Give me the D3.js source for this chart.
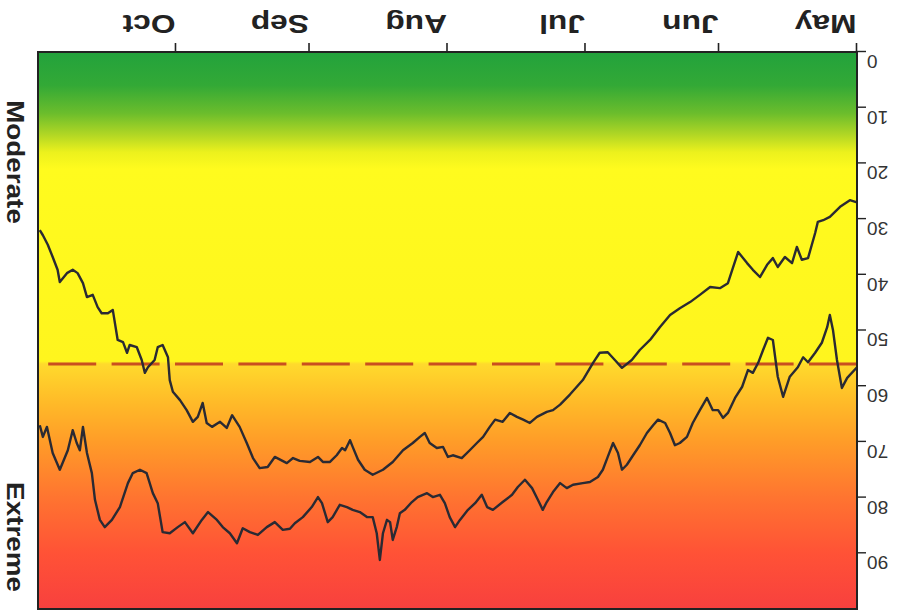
<!DOCTYPE html>
<html>
<head>
<meta charset="utf-8">
<script src="https://cdn.jsdelivr.net/npm/d3@7.9.0/dist/d3.min.js"></script>
<style>
  body { margin: 0; background: #fff; }
  svg { display: block; font-family: "Liberation Sans", Arial, sans-serif; }
</style>
</head>
<body>
<svg id="chart" width="900" height="615"></svg>
<script>
// season runs May 1 -> Nov 1, x values are days after May 1
const seasonStart = new Date(2002, 4, 1);
const seasonEnd = new Date(2002, 10, 1);
const months = ["May", "Jun", "Jul", "Aug", "Sep", "Oct"];
const yTicks = [0, 10, 20, 30, 40, 50, 60, 70, 80, 90];
const threshold = 56;

// lower index curve
const daysA = [0, 1.6, 3.8, 6.1, 7.6, 8.8, 9.4, 11, 12.4, 13.5, 14.6, 16.2, 17.8, 18.9, 20.2, 21.8, 23.4, 24.7, 26.7, 27.9,
  29, 30.8, 33, 35.3, 37.5, 39.8, 42, 44.3, 46.5, 48.8, 50.6, 52.8, 54.4, 56, 57.8, 59.3, 61.6, 64.5, 66.7, 68.3,
  69.7, 71.9, 73.5, 75, 76.4, 78, 79.6, 81.3, 82.5, 84, 85.4, 87, 88.8, 90.8, 91.9, 93, 94.4, 96, 97.1, 98.2,
  99.8, 102, 104.3, 106.5, 108.8, 110.6, 112.1, 113.3, 113.9, 115, 115.7, 116.9, 118.4, 120, 121.1, 122.9, 125.2, 126.7, 128.1, 130.8,
  132.4, 134.2, 135.7, 137.1, 138.7, 140.4, 141.6, 143.1, 144.9, 146.1, 147, 148.1, 149.2, 150.6, 152.1, 153.7, 154.4, 154.8, 156, 157.1,
  157.8, 159.3, 160, 160.7, 161.8, 163.4, 164, 164.9, 166.1, 167.2, 168.3, 169.7, 170.6, 171.7, 173, 173.9, 175.1, 176.2, 177.5, 179.1,
  179.6, 180.7, 181.8, 182.9, 183.6];
const valuesA = [27, 26.6, 27.8, 29.6, 30.2, 30.5, 32.5, 37, 37.3, 35, 37.9, 36.8, 38.6, 37, 38.2, 40.4, 39.1, 37.9, 35.9, 38.8,
  41.5, 42.4, 42.2, 43.6, 44.9, 46, 47.2, 49.4, 51.7, 53.5, 55.3, 56.7, 55.3, 53.9, 54, 55.8, 58.9, 61.5, 63.3, 64.3,
  64.6, 65.5, 66.6, 66, 65.5, 64.8, 66.4, 66, 67.3, 69.1, 70.2, 71.5, 72.9, 72.4, 72.7, 70.9, 71.1, 70.2, 68.4, 69.1,
  70.2, 71.5, 73.6, 75, 75.9, 75, 73.2, 70.9, 69.7, 71.5, 71.1, 72.4, 73.6, 73.6, 72.7, 73.6, 73.4, 72.9, 73.8, 72.7,
  74.5, 74.7, 72.9, 70.2, 67.3, 65.2, 67.5, 66.4, 67.3, 66.6, 63, 65.5, 66.4, 64.3, 62.5, 61, 58.9, 54.8, 52.6, 53,
  55.3, 56.6, 57.6, 55.3, 53, 52.6, 54, 52.1, 51.7, 46.3, 46.9, 46.9, 45.8, 43.6, 44, 41.5, 39.7, 39.1, 39.7, 41.3,
  39.1, 36.8, 34.6, 32.9, 32];

// upper index curve
const daysB = [0, 2.2, 3.4, 4.5, 5.4, 6.1, 6.7, 7.9, 9.4, 11, 12.1, 13.3, 15.1, 16.6, 17.8, 18.9, 20, 21.1, 22.2, 23.4,
  24.5, 25.8, 27.4, 29, 30.1, 31.2, 32.4, 33.7, 35.3, 36.9, 38.2, 39.8, 40.9, 42, 43.1, 44.7, 45.8, 47.2, 48.8, 50.3,
  51.7, 52.8, 53.7, 54.8, 56, 57.1, 58.2, 60, 61.6, 63.8, 65.2, 66.7, 68.3, 69.7, 70.6, 71.7, 73, 74.6, 76.2, 77.5,
  79.6, 81.8, 83.1, 84.3, 85.8, 87.4, 89.2, 90.3, 91.5, 92.6, 93.7, 95.3, 96.6, 98.7, 100, 101.6, 102.7, 103.4, 104.3, 104.9,
  105.6, 106.5, 107.2, 107.9, 108.8, 110.1, 111.7, 113.3, 114.6, 116.2, 117.8, 118.9, 120.2, 121.1, 122.5, 124.5, 126.3, 127.4, 129, 130.8,
  132.6, 134.6, 136.4, 138, 139.3, 140.9, 142.5, 143.8, 145.8, 147.2, 149.2, 151, 152.6, 154.4, 156, 157.1, 158.2, 159.6, 161.1, 162.7,
  163.8, 165.6, 167.4, 169, 170.1, 171.2, 171.9, 173, 173.9, 174.6, 175.3, 176.2, 177.3, 179.1, 180.7, 182, 182.9, 183.6];
const valuesB = [56.6, 58.5, 60.3, 55.3, 49.9, 47.2, 49.4, 52.2, 54, 55.7, 54.8, 56.6, 58.3, 61.9, 58.3, 51.7, 51.3, 53.5, 55.8, 57.6,
  57.1, 60.1, 62.1, 64.8, 65.7, 64.3, 64.3, 62.1, 64.3, 66.6, 69.1, 70.2, 70.6, 68.4, 66.6, 66, 67, 68.4, 70.6, 72.4,
  74.1, 75, 72, 70.2, 72.7, 75, 76.3, 77.2, 77.4, 77.7, 78.3, 77.4, 79, 80.8, 82.2, 80.4, 78.3, 76.8, 78.1, 79.5,
  80.8, 82.2, 81.7, 79.5, 81, 82.2, 84, 85.3, 83.5, 81, 79.5, 79.9, 79.2, 79.9, 80.8, 82.2, 82.8, 85.3, 87.6, 84.4,
  84, 86.4, 91.2, 86.4, 83.5, 83.5, 82.6, 82.2, 81.7, 81.3, 83.5, 84.4, 81, 79.9, 81.7, 83.5, 84.6, 85.6, 85.8, 84.4,
  85.3, 86.7, 86.2, 85.5, 88.2, 86.4, 85.3, 84, 82.6, 84, 86.4, 84.4, 85.3, 86.4, 86.2, 81, 79.2, 75.6, 75, 75.6,
  77.4, 81.7, 84, 85.3, 84, 80.4, 75.6, 72, 67.3, 71.5, 70.2, 67.9, 71.5, 75, 72, 67.3, 69.1, 67];

// background bands: value -> colour
const bandStops = [0, 6, 11, 15, 18, 21, 55.5, 56, 63, 70, 80, 90, 100];
const bandColors = ["#22a23c", "#33a936", "#6bbd2c", "#b4d824", "#ecf11d", "#fffb1e", "#fff51e",
  "#ffda2c", "#ffba28", "#ff9c28", "#ff7430", "#ff5236", "#f8403e"];

const width = 900, height = 615;
const svg = d3.select("#chart");

const toDate = d => new Date(seasonStart.getTime() + d * 864e5);
const seriesA = daysA.map((d, i) => ({ date: toDate(d), value: valuesA[i] }));
const seriesB = daysB.map((d, i) => ({ date: toDate(d), value: valuesB[i] }));

const x = d3.scaleTime().domain([seasonStart, seasonEnd]).range([43, 862]);
const y = d3.scaleLinear().domain([0, 100]).range([563, 6]);

// the picture is the chart turned upside down
const g = svg.append("g").attr("transform", `rotate(180,${width / 2},${height / 2})`);

const grad = svg.append("defs").append("linearGradient")
  .attr("id", "bands")
  .attr("gradientUnits", "userSpaceOnUse")
  .attr("x1", 0).attr("x2", 0)
  .attr("y1", y(0)).attr("y2", y(100));
grad.selectAll("stop")
  .data(bandStops)
  .enter().append("stop")
  .attr("offset", d => d / 100)
  .attr("stop-color", (d, i) => bandColors[i]);

g.append("rect")
  .attr("x", x.range()[0]).attr("y", y(100))
  .attr("width", x.range()[1] - x.range()[0])
  .attr("height", y(0) - y(100))
  .attr("fill", "url(#bands)");

// threshold
g.append("line")
  .attr("x1", x(seasonStart)).attr("x2", x(seasonEnd))
  .attr("y1", y(threshold)).attr("y2", y(threshold))
  .attr("stroke", "#c9501f")
  .attr("stroke-width", 3)
  .attr("stroke-dasharray", "48 15.4");

const line = d3.line().x(d => x(d.date)).y(d => y(d.value));
[seriesA, seriesB].forEach(s => {
  g.append("path")
    .datum(s)
    .attr("d", line)
    .attr("fill", "none")
    .attr("stroke", "#2a2a33")
    .attr("stroke-width", 2.4)
    .attr("stroke-linejoin", "round");
});

// frame
g.append("rect")
  .attr("x", x.range()[0]).attr("y", y(100))
  .attr("width", x.range()[1] - x.range()[0])
  .attr("height", y(0) - y(100))
  .attr("fill", "none")
  .attr("stroke", "#222")
  .attr("stroke-width", 2);

// month axis
const xAxis = g.append("g")
  .attr("transform", `translate(0,${y(0)})`)
  .call(d3.axisBottom(x)
    .tickValues(months.map((m, i) => d3.timeMonth.offset(seasonStart, i)))
    .tickFormat((d, i) => months[i])
    .tickSize(9));
xAxis.select(".domain").remove();
xAxis.selectAll(".tick line").attr("stroke", "#222").attr("stroke-width", 1.6);
xAxis.selectAll(".tick text")
  .attr("x", 0).attr("y", 37).attr("dy", 0)
  .attr("text-anchor", "start")
  .attr("transform", "scale(1.22,1)")
  .attr("font-size", 26)
  .attr("font-weight", "bold")
  .attr("fill", "#222");

// index axis
const yAxis = g.append("g")
  .attr("transform", `translate(${x.range()[0]},0)`)
  .call(d3.axisLeft(y).tickValues(yTicks).tickSize(9).tickPadding(1));
yAxis.select(".domain").remove();
yAxis.selectAll(".tick line").attr("stroke", "#222").attr("stroke-width", 1.4);
yAxis.selectAll(".tick text")
  .attr("dy", "-0.18em")
  .attr("font-size", 19)
  .attr("fill", "#333");

// side labels
const sideLabels = [["Extreme", 78], ["Moderate", 453]];
g.selectAll(".side")
  .data(sideLabels)
  .enter().append("text")
  .attr("class", "side")
  .attr("transform", d => `translate(884,${d[1]}) rotate(-90) scale(1.16,1)`)
  .attr("text-anchor", "middle")
  .attr("dy", "0.36em")
  .attr("font-size", 24)
  .attr("font-weight", "bold")
  .attr("fill", "#222")
  .text(d => d[0]);
</script>
</body>
</html>
